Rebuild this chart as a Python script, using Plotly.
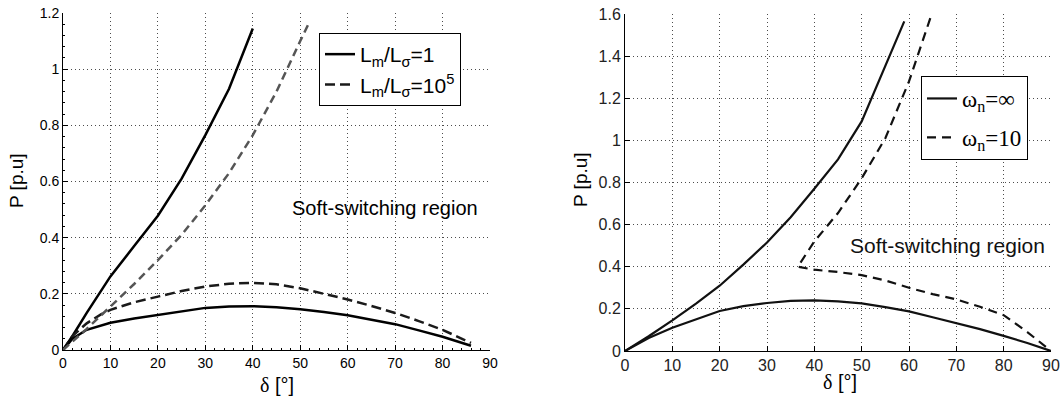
import plotly.graph_objects as go

W, H = 1062, 398

# ---------------- Left panel data ----------------
left_hi1_deg = [0, 2, 5, 10, 15, 20, 25, 30, 35, 40]
left_hi1_p = [0, 0.05, 0.132, 0.262, 0.37, 0.478, 0.61, 0.765, 0.93, 1.145]

left_hi5_deg = [0, 5, 10, 15, 20, 25, 30, 35, 40, 45, 50, 52]
left_hi5_p = [0, 0.075, 0.155, 0.235, 0.32, 0.41, 0.515, 0.63, 0.765, 0.92, 1.1, 1.17]

left_lo5_deg = [0, 2, 5, 8, 10, 15, 20, 25, 30, 35, 40, 45, 50, 55, 60, 65, 70, 75, 80, 86]
left_lo5_p = [0, 0.05, 0.095, 0.127, 0.143, 0.17, 0.19, 0.21, 0.226, 0.236, 0.239, 0.234,
              0.22, 0.2, 0.18, 0.157, 0.132, 0.103, 0.072, 0.025]

left_lo1_deg = [0, 2, 5, 10, 15, 20, 25, 30, 35, 40, 45, 50, 55, 60, 65, 70, 75, 80, 86]
left_lo1_p = [0, 0.04, 0.072, 0.097, 0.112, 0.125, 0.138, 0.15, 0.155, 0.156, 0.152,
              0.145, 0.135, 0.124, 0.108, 0.092, 0.07, 0.047, 0.015]

# ---------------- Right panel data ----------------
right_hi_inf_deg = [0, 5, 10, 15, 20, 25, 30, 35, 40, 45, 50, 55, 59]
right_hi_inf_p = [0, 0.07, 0.145, 0.225, 0.31, 0.41, 0.515, 0.635, 0.77, 0.91, 1.09, 1.35, 1.565]

right_lo_inf_deg = [0, 5, 10, 15, 20, 25, 30, 35, 40, 45, 50, 55, 60, 65, 70, 75, 80, 85, 90]
right_lo_inf_p = [0, 0.062, 0.11, 0.15, 0.19, 0.213, 0.228, 0.238, 0.24, 0.236, 0.226,
                  0.208, 0.188, 0.16, 0.133, 0.104, 0.072, 0.038, 0.0]

right_hi10_deg = [36.5, 40, 45, 50, 55, 60, 64.5]
right_hi10_p = [0.40, 0.52, 0.655, 0.82, 1.01, 1.28, 1.58]

right_lo10_deg = [36.5, 40, 45, 50, 55, 60, 65, 70, 75, 80, 85, 90]
right_lo10_p = [0.40, 0.386, 0.375, 0.36, 0.335, 0.30, 0.27, 0.245, 0.21, 0.17, 0.09, 0.0]

x_ticks = [0, 10, 20, 30, 40, 50, 60, 70, 80, 90]
left_y_ticks = [0, 0.2, 0.4, 0.6, 0.8, 1, 1.2]
right_y_ticks = [0, 0.2, 0.4, 0.6, 0.8, 1, 1.2, 1.4, 1.6]

FONT = "Liberation Sans, Arial, Helvetica, sans-serif"
SERIF = "Liberation Serif"

fig = go.Figure()

# Left panel traces
fig.add_trace(go.Scatter(x=left_hi1_deg, y=left_hi1_p, mode="lines",
                         line=dict(color="black", width=2.5), name="L<sub>m</sub>/L<sub>σ</sub>=1",
                         legend="legend", xaxis="x", yaxis="y"))
fig.add_trace(go.Scatter(x=left_lo5_deg, y=left_lo5_p, mode="lines",
                         line=dict(color="#1a1a1a", width=2.5, dash="10px,5px"),
                         name="L<sub>m</sub>/L<sub>σ</sub>=10<sup>5</sup>",
                         legend="legend", xaxis="x", yaxis="y"))
fig.add_trace(go.Scatter(x=left_lo1_deg, y=left_lo1_p, mode="lines",
                         line=dict(color="black", width=2.5), showlegend=False,
                         xaxis="x", yaxis="y"))
fig.add_trace(go.Scatter(x=left_hi5_deg, y=left_hi5_p, mode="lines",
                         line=dict(color="#555555", width=2.5, dash="8px,5px"), showlegend=False,
                         xaxis="x", yaxis="y"))

# Right panel traces
fig.add_trace(go.Scatter(x=right_hi_inf_deg, y=right_hi_inf_p, mode="lines",
                         line=dict(color="#111111", width=2.2), name="ω<sub>n</sub>=∞",
                         legend="legend2", legendgroup="a", xaxis="x2", yaxis="y2"))
fig.add_trace(go.Scatter(x=right_lo_inf_deg, y=right_lo_inf_p, mode="lines",
                         line=dict(color="#111111", width=2.2), showlegend=False,
                         legendgroup="a", xaxis="x2", yaxis="y2"))
fig.add_trace(go.Scatter(x=right_hi10_deg[::-1] + right_lo10_deg[1:],
                         y=right_hi10_p[::-1] + right_lo10_p[1:], mode="lines",
                         line=dict(color="#111111", width=2.2, dash="9px,6px"), name="ω<sub>n</sub>=10",
                         legend="legend2", legendgroup="b", xaxis="x2", yaxis="y2"))

def px_x(p):
    return p / W

def px_y(p):
    return (H - p) / H

axis_common = dict(
    showline=True, linecolor="black", linewidth=1, mirror=False,
    ticks="inside", ticklen=5, tickcolor="black", tickwidth=1,
    showgrid=True, gridcolor="rgba(0,0,0,0.7)", griddash="1px,3px", gridwidth=1,
    zeroline=False, automargin=False,
)

fig.update_layout(
    width=W, height=H,
    margin=dict(l=0, r=0, t=0, b=0),
    paper_bgcolor="white", plot_bgcolor="white",
    font=dict(family=FONT, color="black"),
    xaxis=dict(domain=[px_x(63), px_x(490)], range=[0, 90], tickvals=x_ticks,
               anchor="y", tickfont=dict(size=14, color="black"),
               minor=dict(ticks="inside", ticklen=2, dtick=2, tickcolor="black", showgrid=False),
               **axis_common),
    yaxis=dict(domain=[px_y(350), px_y(13)], range=[0, 1.2], tickvals=left_y_ticks,
               anchor="x", tickfont=dict(size=14, color="black"),
               minor=dict(ticks="inside", ticklen=2, dtick=0.04, tickcolor="black", showgrid=False),
               **axis_common),
    xaxis2=dict(domain=[px_x(625), px_x(1051)], range=[0, 90], tickvals=x_ticks,
                anchor="y2", tickfont=dict(size=16, color="#222"),
                **axis_common),
    yaxis2=dict(domain=[px_y(351), px_y(14)], range=[0, 1.6], tickvals=right_y_ticks,
                anchor="x2", tickfont=dict(size=16, color="#222"),
                **axis_common),
    legend=dict(x=px_x(319), y=px_y(33), xanchor="left", yanchor="top",
                bgcolor="white", bordercolor="black", borderwidth=1,
                font=dict(size=21, family=FONT), tracegroupgap=0, itemwidth=30),
    legend2=dict(x=px_x(921), y=px_y(76), xanchor="left", yanchor="top",
                 bgcolor="white", bordercolor="black", borderwidth=1,
                 font=dict(size=23, family=SERIF), traceorder="grouped", tracegroupgap=6,
                 itemwidth=30),
    showlegend=True,
)

annotations = [
    dict(text="P [p.u]", x=px_x(16), y=px_y(181), xref="paper", yref="paper",
         textangle=-90, showarrow=False, font=dict(size=19), xanchor="center", yanchor="middle"),
    dict(text="P [p.u]", x=px_x(581), y=px_y(180), xref="paper", yref="paper",
         textangle=-90, showarrow=False, font=dict(size=19), xanchor="center", yanchor="middle"),
    dict(text=f"<span style='font-family:{SERIF}'>δ</span> [°]", x=px_x(277), y=px_y(385),
         xref="paper", yref="paper", showarrow=False, font=dict(size=20),
         xanchor="center", yanchor="middle"),
    dict(text=f"<span style='font-family:{SERIF}'>δ</span> [°]", x=px_x(840), y=px_y(382),
         xref="paper", yref="paper", showarrow=False, font=dict(size=20),
         xanchor="center", yanchor="middle"),
    dict(text="Soft-switching region", x=47.8, y=0.505, xref="x", yref="y",
         showarrow=False, font=dict(size=20), xanchor="left", yanchor="middle"),
    dict(text="Soft-switching region", x=47.2, y=0.50, xref="x2", yref="y2",
         showarrow=False, font=dict(size=21, color="#111"), xanchor="left", yanchor="middle"),
]
fig.update_layout(annotations=annotations)

fig.write_html("out.html")
